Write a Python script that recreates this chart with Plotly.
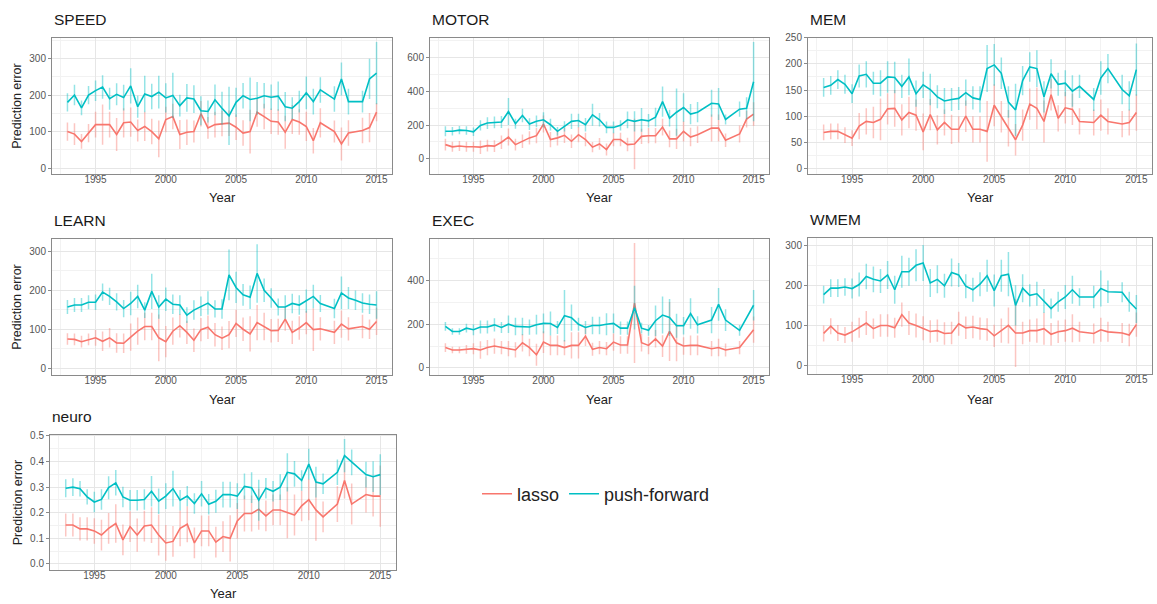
import plotly.graph_objects as go

years = [1993, 1993.5, 1994, 1994.5, 1995, 1995.5, 1996, 1996.5, 1997, 1997.5,
         1998, 1998.5, 1999, 1999.5, 2000, 2000.5, 2001, 2001.5, 2002, 2002.5,
         2003, 2003.5, 2004, 2004.5, 2005, 2005.5, 2006, 2006.5, 2007, 2007.5,
         2008, 2008.5, 2009, 2009.5, 2010, 2010.5, 2011, 2011.5, 2012, 2012.5,
         2013, 2013.5, 2014, 2014.5, 2015]

panels = ["SPEED", "MOTOR", "MEM", "LEARN", "EXEC", "WMEM", "neuro"]
series_names = ["lasso", "push-forward"]

SPEED_lasso = [100,93,73,96,119,119,119,92,124,126,103,114,100,80, 133,141,92,98,100,149,110,119,122,123, 112,96,100,153,141,128,126,98,133,126, 114,75,124,None,100,66,96,None,103,111,153]
SPEED_lasso_err = [25,30,20,25,35,55,35,45,40,40,30,40,35,50, 35,35,40,35,30,35,30,35,35,35, 35,35,60,40,35,35,35,45,40,35, 40,35,40,None,30,45,35,None,35,40,25]
SPEED_pf = [180,200,165,200,212,222,190,202,193,225,168,203,196,208, 192,199,171,192,189,157,155,187,164,143, 180,198,188,191,198,194,197,168,164,182, 206,182,214,None,189,244,182,None,182,244,260]
SPEED_pf_err = [25,28,20,25,28,32,30,30,35,48,30,50,35,45, 40,62,30,38,38,40,30,42,45,80, 40,35,60,45,35,35,40,40,30,30, 45,35,35,None,35,45,35,None,30,55,85]

MOTOR_lasso = [84,71,76,71,71,69,78,75,98,129,84,104,124,137, 206,114,124,139,104,143,114,69,88,55, 114,114,84,88,133,137,137,188,118,118, 163,129,143,None,182,182,110,None,147,235,265]
MOTOR_lasso_err = [35,30,30,30,30,40,35,35,40,50,35,40,40,45, 50,45,45,45,40,45,40,30,35,35, 40,40,40,150,45,45,45,50,50,60, 60,55,50,None,80,80,40,None,50,50,70]
MOTOR_pf = [163,163,170,168,160,198,212,216,218,280,208,257,206,222, 231,202,163,192,222,227,202,261,231,186, 186,198,231,222,231,225,247,339,241,276, 304,265,276,None,329,325,233,None,294,300,457]
MOTOR_pf_err = [30,25,25,25,25,30,35,35,35,80,30,40,35,35, 45,35,25,30,45,40,40,65,40,35, 35,30,50,60,70,40,55,90,50,140, 85,60,60,None,80,95,30,None,45,65,235]

MEM_lasso = [69,71,71,64,58,81,90,88,94,114,115,93,107,102, 70,103,74,88,75,75,100,75,75,71, 121,99,77,55,83,123,115,90,141,96, 116,113,90,None,88,102,90,None,85,88,107]
MEM_lasso_err = [15,15,15,15,15,25,25,30,40,30,35,30,30,30, 35,30,28,25,28,25,30,25,25,58, 40,30,35,30,30,30,40,40,30,25, 30,30,25,None,25,30,25,None,25,25,35]
MEM_pf = [155,159,170,161,143,177,180,163,163,175,174,157,175,143, 160,151,137,129,132,134,145,135,132,191, 198,182,127,112,168,194,191,137,181,161, 163,148,157,None,132,173,191,None,151,139,189]
MEM_pf_err = [18,18,18,18,18,22,25,22,25,30,30,22,35,25, 25,30,22,25,22,22,25,22,25,45, 40,30,30,50,28,28,35,30,28,22, 25,30,22,None,22,32,28,None,28,28,50]

LEARN_lasso = [75,74,68,74,78,69,78,65,64,80,95,107,107,78, 68,95,109,92,72,99,105,86,77,86, 115,100,88,117,107,96,97,126,92,103, 117,99,101,None,92,113,101,None,107,100,120]
LEARN_lasso_err = [15,15,15,15,20,25,25,25,25,35,35,35,35,60, 40,35,30,30,30,30,30,30,30,35, 35,30,45,45,35,30,30,30,30,30, 30,55,30,None,30,35,30,None,30,25,35]
LEARN_pf = [157,162,162,169,169,195,184,170,153,166,184,149,197,157, 177,164,162,136,149,159,167,152,152,239, 207,188,182,243,200,180,157,157,166,162, 172,184,166,None,153,193,180,174,167,164,162]
LEARN_pf_err = [18,18,18,18,20,22,22,22,22,30,30,20,45,30, 30,25,25,20,25,25,30,22,25,65, 40,28,30,75,30,25,22,30,25,25, 30,30,22,None,25,42,28,25,25,25,35]

EXEC_lasso = [93,82,82,85,88,82,93,100,93,88,82,115,93,60, 118,103,103,93,103,103,145,85,93,88, 118,105,105,297,115,103,133,100,167,115, 100,103,103,None,88,93,82,None,93,None,175]
EXEC_lasso_err = [20,15,15,20,25,40,35,35,30,35,35,40,40,50, 50,45,45,35,60,60,45,30,30,30, 40,40,40,275,40,40,40,50,135,85, 40,45,45,None,35,40,30,None,30,None,60]
EXEC_pf = [190,167,167,182,175,187,187,197,185,200,190,190,187,198, 204,203,185,239,230,200,185,194,194,200, 204,182,182,276,182,172,216,242,231,193, 193,249,197,None,219,291,219,None,172,None,287]
EXEC_pf_err = [20,15,15,20,25,30,30,30,25,40,40,40,35,45, 45,55,30,118,60,30,30,40,40,50, 45,30,30,100,25,25,70,85,85,55, 40,70,40,None,60,75,50,None,25,None,70]

WMEM_lasso = [80,98,81,76,84,94,106,92,100,100,94,127,106,100, 93,85,87,80,81,104,94,96,92,90, 74,87,100,81,81,87,87,92,78,84, 87,93,84,None,80,89,84,None,81,76,102]
WMEM_lasso_err = [20,20,20,20,25,25,30,25,28,28,25,30,30,30, 30,28,28,28,28,30,28,28,28,28, 28,30,45,85,28,28,30,40,28,28, 28,35,25,None,25,30,25,None,25,28,30]
WMEM_pf = [177,193,193,196,192,202,222,215,211,226,189,234,234,250, 256,206,215,199,232,226,198,189,203,224, 187,224,228,150,193,175,179,161,142,159, 171,189,171,None,171,192,184,None,183,159,141]
WMEM_pf_err = [22,22,22,22,25,30,32,32,30,35,35,40,35,40, 45,35,35,30,35,30,30,30,30,40, 40,40,55,50,35,28,30,30,25,25, 30,35,22,None,28,45,28,None,25,25,35]

NEURO_lasso = [0.152,0.152,0.137,0.137,0.129,0.113,0.139,0.158,0.094,0.146,0.113,0.148,0.152,0.113, 0.082,0.088,0.139,0.155,0.082,0.129,0.129,0.085,0.107,0.100, 0.168,0.197,0.197,0.214,0.188,0.211,0.211,0.200,0.191,0.227, 0.251,0.211,0.184,None,0.234,0.326,0.234,None,0.271,0.265,0.265]
NEURO_lasso_err = [0.045,0.045,0.045,0.045,0.05,0.06,0.06,0.075,0.06,0.06,0.065,0.06,0.07,0.08, 0.07,0.06,0.07,0.07,0.06,0.06,0.06,0.06,0.06,0.09, 0.07,0.07,0.07,0.08,0.06,0.06,0.06,0.1,0.08,0.06, 0.08,0.12,0.06,None,0.07,0.07,0.08,None,0.07,0.08,0.12]
NEURO_pf = [0.296,0.300,0.294,0.262,0.242,0.252,0.298,0.317,0.262,0.249,0.249,0.252,0.284,0.245, 0.265,0.294,0.249,0.265,0.236,0.274,0.233,0.245,0.271,0.271, 0.265,0.303,0.298,0.249,0.296,0.284,0.300,0.358,0.352,0.326, 0.390,0.320,0.313,None,0.358,0.423,0.397,None,0.349,0.341,0.349]
NEURO_pf_err = [0.035,0.035,0.03,0.03,0.04,0.04,0.045,0.05,0.04,0.04,0.04,0.04,0.06,0.05, 0.05,0.07,0.04,0.04,0.04,0.05,0.04,0.045,0.05,0.05, 0.05,0.05,0.06,0.08,0.04,0.04,0.05,0.075,0.05,0.04, 0.06,0.06,0.04,None,0.05,0.065,0.05,None,0.05,0.06,0.08]

data = {
    "SPEED": (SPEED_lasso, SPEED_lasso_err, SPEED_pf, SPEED_pf_err),
    "MOTOR": (MOTOR_lasso, MOTOR_lasso_err, MOTOR_pf, MOTOR_pf_err),
    "MEM": (MEM_lasso, MEM_lasso_err, MEM_pf, MEM_pf_err),
    "LEARN": (LEARN_lasso, LEARN_lasso_err, LEARN_pf, LEARN_pf_err),
    "EXEC": (EXEC_lasso, EXEC_lasso_err, EXEC_pf, EXEC_pf_err),
    "WMEM": (WMEM_lasso, WMEM_lasso_err, WMEM_pf, WMEM_pf_err),
    "neuro": (NEURO_lasso, NEURO_lasso_err, NEURO_pf, NEURO_pf_err),
}

# layout specs (pixel geometry of a 1157x604 canvas)
W, H = 1157, 604
geom = {
    "SPEED": (52, 392, 32, 170),
    "MOTOR": (430, 769, 32, 170),
    "MEM":   (808, 1152, 32, 170),
    "LEARN": (52, 392, 235, 373),
    "EXEC":  (430, 769, 235, 373),
    "WMEM":  (808, 1152, 234, 372),
    "neuro": (50, 396, 433, 570),
}
year_title_y = {"SPEED": 193, "MOTOR": 193, "MEM": 193,
                "LEARN": 397, "EXEC": 397, "WMEM": 397, "neuro": 593}
yranges = {
    "SPEED": ([-17, 357], 100, None),
    "MOTOR": ([-92, 718], 200, None),
    "MEM":   ([-11, 250], 50, None),
    "LEARN": ([-18, 332], 100, None),
    "EXEC":  ([-34, 592], 200, None),
    "WMEM":  ([-22, 319], 100, None),
    "neuro": ([-0.025, 0.505], 0.1, ".1f"),
}
left_col = {"SPEED", "LEARN", "neuro"}

colors = ["#F8766D", "#00BFC4"]
err_colors = ["rgba(248,118,109,0.42)", "rgba(0,191,196,0.42)"]

fig = go.Figure()
font_fam = "Liberation Sans, Arial, sans-serif"
annotations = []

for i, p in enumerate(panels):
    idx = "" if i == 0 else str(i + 1)
    xa, ya = "x" + idx, "y" + idx
    vals = data[p]
    for s in range(2):
        y = vals[2 * s]
        e = vals[2 * s + 1]
        fig.add_trace(go.Scatter(
            x=years, y=y, mode="lines", name=series_names[s],
            line=dict(color=colors[s], width=1.6),
            connectgaps=True,
            error_y=dict(type="data", array=e, visible=True, color=err_colors[s],
                         thickness=1.5, width=0),
            xaxis=xa, yaxis=ya, showlegend=(i == 0), legendgroup=series_names[s],
            hoverinfo="x+y",
        ))
    x0, x1, y0, y1 = geom[p]
    dom_x = [x0 / W, x1 / W]
    dom_y = [1 - y1 / H, 1 - y0 / H]
    yr, dt, fmt = yranges[p]
    axis_common = dict(
        showline=True, mirror=True, linecolor="#8a8a8a", linewidth=1,
        ticks="outside", ticklen=3, tickcolor="#8a8a8a",
        showgrid=True, gridcolor="#e6e6e6", gridwidth=1,
        zeroline=False,
        tickfont=dict(size=10, color="#555555", family=font_fam),
    )
    fig.layout["xaxis" + idx] = dict(
        domain=dom_x, anchor=ya, range=[1991.9, 2016.1],
        tickmode="linear", tick0=1995, dtick=5,
        ticklabelstandoff=-7,
        minor=dict(showgrid=True, gridcolor="#f2f2f2", gridwidth=0.6, tick0=1992.5, dtick=5, ticks=""),
        **axis_common,
    )
    ydict = dict(
        domain=dom_y, anchor=xa, range=yr,
        tickmode="linear", tick0=0, dtick=dt,
        minor=dict(showgrid=True, gridcolor="#f2f2f2", gridwidth=0.6, tick0=dt / 2, dtick=dt, ticks=""),
        **axis_common,
    )
    if fmt:
        ydict["tickformat"] = fmt
    if p in left_col:
        ydict["title"] = dict(text="Prediction error", font=dict(size=12.5, color="#222222", family=font_fam), standoff=4)
    fig.layout["yaxis" + idx] = ydict
    annotations.append(dict(
        text=p, x=x0 / W, y=1 - (y0 - 8) / H, xref="paper", yref="paper",
        xanchor="left", yanchor="bottom", showarrow=False,
        font=dict(size=15.5, color="#1a1a1a", family=font_fam),
    ))
    annotations.append(dict(
        text="Year", x=(x0 + x1) / 2 / W, y=1 - year_title_y[p] / H, xref="paper", yref="paper",
        xanchor="center", yanchor="middle", showarrow=False,
        font=dict(size=13, color="#222222", family=font_fam),
    ))

fig.update_layout(
    width=W, height=H,
    margin=dict(l=0, r=0, t=0, b=0),
    paper_bgcolor="white", plot_bgcolor="white",
    annotations=annotations,
    showlegend=True,
    legend=dict(
        orientation="h", x=477 / W, y=1 - 493 / H, xanchor="left", yanchor="middle",
        font=dict(size=18, color="#222222", family=font_fam),
        itemwidth=30, bgcolor="rgba(0,0,0,0)", tracegroupgap=0,
    ),
    font=dict(family=font_fam),
)

fig.write_html("out.html", config={"displayModeBar": False},
               post_script="document.body.style.margin='0';document.body.style.overflow='hidden';")
